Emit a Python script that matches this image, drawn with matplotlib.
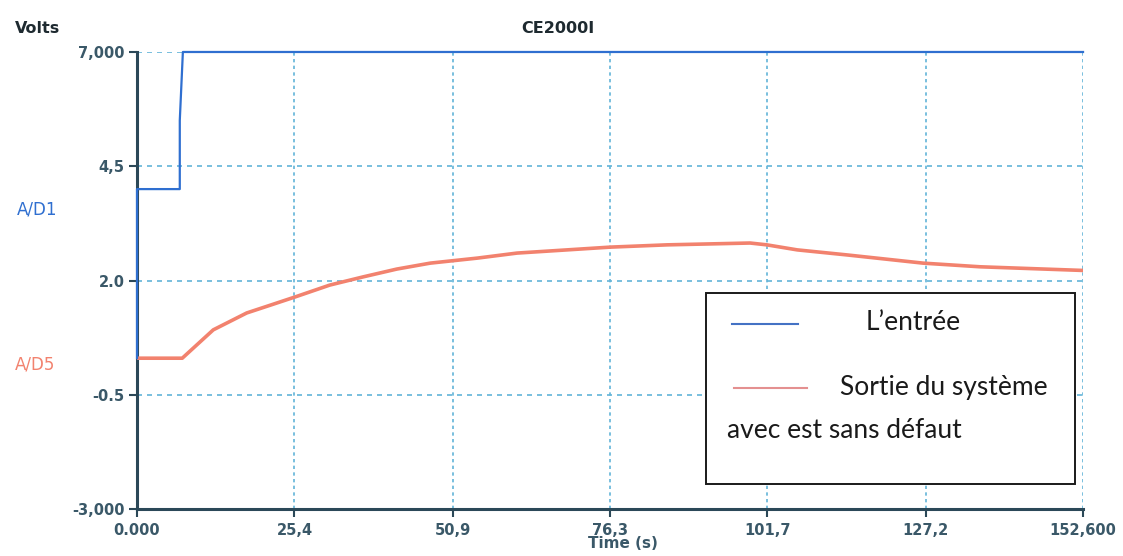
import numpy as np
import matplotlib.pyplot as plt
from matplotlib.lines import Line2D
from matplotlib.patches import Rectangle

# Acquisition CE2000I : entrée (A/D1) et sortie (A/D5)
t_in = [0.0, 0.0, 6.9, 6.9, 7.4, 152.6]
v_in = [0.30, 4.0, 4.0, 5.5, 7.0, 7.0]

t_out = [0.0, 7.3, 12.3, 17.7, 21.5, 25.5, 31.1, 36.5, 41.9, 47.3, 54.9,
         61.3, 76.3, 85.5, 98.9, 101.6, 106.5, 114.5, 126.8, 136.0, 152.6]
v_out = [0.30, 0.30, 0.92, 1.29, 1.46, 1.64, 1.90, 2.08, 2.25, 2.38, 2.49,
         2.60, 2.73, 2.78, 2.82, 2.78, 2.67, 2.56, 2.38, 2.30, 2.22]

x_ticks = [0.0, 25.4, 50.9, 76.3, 101.7, 127.2, 152.6]
x_labels = ['0.000', '25,4', '50,9', '76,3', '101,7', '127,2', '152,600']
y_ticks = [-3.0, -0.5, 2.0, 4.5, 7.0]
y_labels = ['-3,000', '-0.5', '2.0', '4,5', '7,000']

tick_color = '#2b4858'
grid_color = '#62b4d8'
blue = '#2f6fd0'
salmon = '#f2826e'

fig = plt.figure(figsize=(11.23, 5.56), dpi=100)
ax = fig.add_axes([0.122, 0.0845, 0.8424, 0.822])

ax.plot(t_out, v_out, color=salmon, linewidth=2.6, solid_capstyle='round', zorder=3)
ax.plot(t_in, v_in, color=blue, linewidth=1.6, clip_on=False, zorder=4)

ax.set_xlim(0, 152.6)
ax.set_ylim(-3, 7)
ax.set_xticks(x_ticks)
ax.set_xticklabels(x_labels)
ax.set_yticks(y_ticks)
ax.set_yticklabels(y_labels)

for x in x_ticks[1:]:
    ax.axvline(x, color=grid_color, linewidth=1.2, linestyle=(0, (2, 2)), zorder=1)
for y in y_ticks[1:]:
    ax.axhline(y, color=grid_color, linewidth=1.2, linestyle=(0, (3, 3)), zorder=1)

for side in ['top', 'right']:
    ax.spines[side].set_visible(False)
for side in ['left', 'bottom']:
    ax.spines[side].set_color(tick_color)
    ax.spines[side].set_linewidth(2.2)
    ax.spines[side].set_linestyle((0, (3, 1)))

ax.tick_params(axis='both', colors=tick_color, length=6, width=1.5, direction='out',
               labelsize=10.5)
ax.tick_params(axis='y', pad=3)
ax.tick_params(axis='x', pad=4)
for lab in ax.get_xticklabels() + ax.get_yticklabels():
    lab.set_fontweight('bold')
    lab.set_color('#3a5868')

fig.text(0.013, 0.94, 'Volts', fontsize=11.5, fontweight='bold', color='#1e2a30')
fig.text(0.497, 0.94, 'CE2000I', fontsize=11.5, fontweight='bold', color='#1e2a30', ha='center')
fig.text(0.015, 0.615, 'A/D1', fontsize=12, color=blue)
fig.text(0.013, 0.335, 'A/D5', fontsize=12, color=salmon)
fig.text(0.555, 1 - 544 / 556, 'Time (s)', fontsize=11, fontweight='bold', color='#3a5868',
         ha='center', va='center')

# Légende encadrée
W, H = 1123, 556
def fx(px):
    return px / W
def fy(py):
    return 1 - py / H

fig.patches.append(Rectangle((fx(706), fy(484)), fx(1075) - fx(706), fy(293) - fy(484),
                             transform=fig.transFigure, facecolor='white',
                             edgecolor='#1a1a1a', linewidth=1.4, zorder=5))
fig.lines.append(Line2D([fx(732), fx(798)], [fy(324), fy(324)], transform=fig.transFigure,
                        color='#4472c4', linewidth=1.5, zorder=6))
fig.lines.append(Line2D([fx(734), fx(807)], [fy(388), fy(388)], transform=fig.transFigure,
                        color='#e49090', linewidth=1.5, zorder=6))
legend_font = dict(fontsize=19, family='Lato', color='#1a1a1a', va='center', zorder=7)
fig.text(fx(866), fy(323), 'L\u2019entrée', **legend_font)
fig.text(fx(840), fy(388), 'Sortie du système', **legend_font)
fig.text(fx(727), fy(431), 'avec est sans défaut', **legend_font)

fig.savefig('out.png', dpi=100)
